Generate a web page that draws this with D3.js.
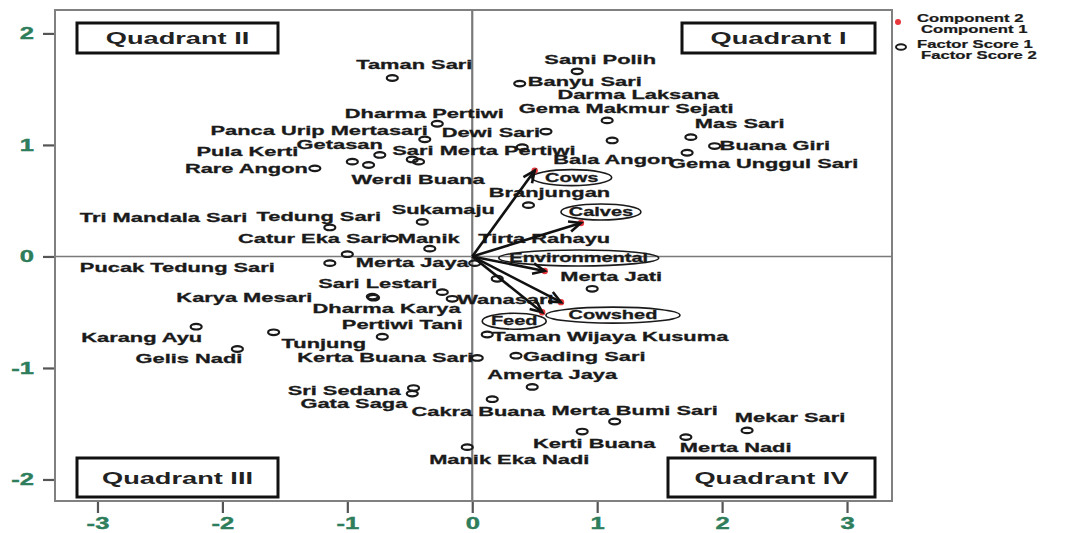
<!DOCTYPE html>
<html lang="en">
<head>
<meta charset="UTF-8">
<script src="https://d3js.org/d3.v7.min.js"></script>
<style>
  body { margin: 0; background: #fff; }
  text { font-family: "Liberation Sans", Arial, sans-serif; font-weight: bold; }
</style>
</head>
<body>
<script>

// factor scores of each village (component 1, component 2)
var villages = ["Taman Sari", "Sami Polih", "Banyu Sari", "Darma Laksana", "Gema Makmur Sejati", "Mas Sari",
    "Buana Giri", "Gema Unggul Sari", "Dewi Sari", "Bala Angon", "Dharma Pertiwi", "Panca Urip Mertasari",
    "Getasan", "Pula Kerti", "Werdi Buana", "Sari Merta Pertiwi", "", "Rare Angon", "Branjungan",
    "Tedung Sari", "Sukamaju", "Catur Eka Sari", "Manik", "Tri Mandala Sari", "Pucak Tedung Sari",
    "Merta Jaya", "Tirta Rahayu", "Sari Lestari", "Wanasari", "Karya Mesari", "Dharma Karya", "Merta Jati",
    "Pertiwi Tani", "Karang Ayu", "Tunjung", "Gelis Nadi", "Kerta Buana Sari", "Sri Sedana", "Gata Saga",
    "Manik Eka Nadi", "Taman Wijaya Kusuma", "Gading Sari", "Amerta Jaya", "Cakra Buana", "Merta Bumi Sari",
    "Kerti Buana", "Merta Nadi", "Mekar Sari"];
var score1 = [-0.64, 0.84, 0.38, 1.08, 1.12, 1.75, 1.94, 1.72, 0.59, 0.40, -0.28, -0.38, -0.74, -0.96, -0.83,
    -0.48, -0.43, -1.26, 0.45, -1.14, -0.40, -0.64, -0.34, -1.00, -1.14, 0.02, 0.20, -0.24, -0.16, -0.80, -0.79,
    0.96, -0.72, -2.21, -1.59, -1.88, 0.04, -0.47, -0.48, -0.04, 0.12, 0.35, 0.48, 0.16, 1.14, 0.88, 1.71, 2.20];
var score2 = [1.60, 1.66, 1.55, 1.22, 1.04, 1.07, 0.99, 0.93, 1.12, 0.98, 1.19, 1.05, 0.91, 0.85, 0.82,
    0.87, 0.85, 0.79, 0.46, 0.26, 0.31, 0.16, 0.07, 0.02, -0.06, -0.06, -0.20, -0.32, -0.38, -0.36, -0.37,
    -0.29, -0.72, -0.63, -0.68, -0.83, -0.91, -1.18, -1.23, -1.71, -0.70, -0.89, -1.17, -1.28, -1.48, -1.57,
    -1.62, -1.56];

// where each village label sits next to its point
var labelAnchor = ["middle", "middle", "start", "middle", "middle", "start", "start", "start", "end", "start",
    "middle", "end", "end", "end", "start", "start", "start", "end", "middle", "middle", "middle", "end", "start",
    "end", "end", "end", "middle", "end", "start", "end", "start", "middle", "middle", "end", "start", "end", "end",
    "end", "end", "middle", "start", "start", "middle", "middle", "middle", "middle", "start", "middle"];
var labelDx = [22, 23, 8, 31, 14, 4, 5, -18, -6, 31, -13, 3, 3, -54, -17, -20, 0, -7, 21, -11, 21, -5, -32,
    -100, -55, -6, 47, -5, 5, -60, -61, 19, 20, 6, 8, 5, -4, -13, -5, 42, 5, 7, 20, -14, 20, 12, -6, 43];
var labelDy = [-13, -12, -2, -26, -32, -13, 0, 11, 1, 12, -10, -9, -10, -10, 15, -9, 0, 0, -12, -11, -12, 0, -10,
    -37, 5, 0, -40, -8, 1, 1, 11, -12, -12, 11, 11, 10, 0, 3, 10, 13, 2, 1, -12, 12, -11, 12, 11, -13];

// component loadings of the variables
var variables = ["Cows", "Calves", "Environmental", "Cowshed", "Feed"];
var loading1 = [0.50, 0.87, 0.58, 0.71, 0.56];
var loading2 = [0.77, 0.30, -0.13, -0.41, -0.50];
var tagDx = [37, 20, 34, 52, -28];
var tagDy = [7, -11, -13, 13, 9];
var tagRx = [40, 40, 80, 67, 32];

var xTicks = [-3, -2, -1, 0, 1, 2, 3];
var yTicks = [-2, -1, 0, 1, 2];
var quadrants = ["Quadrant I", "Quadrant II", "Quadrant III", "Quadrant IV"];
var legendLabels = ["Component  2", "Component  1", "Factor Score  1", "Factor Score  2"];

var W = 1081, H = 533;
var plotL = 55, plotR = 892, plotT = 10, plotB = 501;
var SX = 1.68; // the picture is stretched sideways

var svg = d3.select("body").append("svg")
    .attr("width", W)
    .attr("height", H);

var x = d3.scaleLinear().domain([-3.34, 3.36]).range([plotL, plotR]);
var y = d3.scaleLinear().domain([-2.193, 2.21]).range([plotB, plotT]);

function stretch(sel, fx, fy, sx) {
    sel.attr("transform", function (d, i) {
        return "translate(" + fx(d, i) + "," + fy(d, i) + ") scale(" + (sx || SX) + ",1)";
    });
}

// axes
var yAxis = svg.append("g")
    .attr("transform", "translate(" + plotL + ",0)")
    .call(d3.axisLeft(y).tickValues(yTicks).tickSize(12).tickSizeOuter(0).tickFormat(d3.format("d")));
var xAxis = svg.append("g")
    .attr("transform", "translate(0," + plotB + ")")
    .call(d3.axisBottom(x).tickValues(xTicks).tickSize(12).tickSizeOuter(0).tickFormat(d3.format("d")));

[yAxis, xAxis].forEach(function (g) {
    g.select(".domain").remove();
    g.selectAll(".tick line").attr("stroke", "#555").attr("stroke-width", 2.2);
    g.selectAll(".tick text")
        .attr("x", null).attr("y", null).attr("dy", null)
        .attr("fill", "#2e7d5b")
        .attr("stroke", "#2e7d5b").attr("stroke-width", 0.4)
        .attr("font-size", 16.5)
        .attr("font-family", null)
        .attr("dominant-baseline", "central")
        .text(function (d) { return d < 0 ? "-" + Math.abs(d) : d; });
});
yAxis.selectAll(".tick text").attr("text-anchor", "end");
stretch(yAxis.selectAll(".tick text"), function () { return -21; }, function () { return 0; }, 1.55);
stretch(xAxis.selectAll(".tick text"), function () { return 0; }, function () { return 23; }, 1.55);

// frame and zero lines
svg.append("rect")
    .attr("x", plotL).attr("y", plotT)
    .attr("width", plotR - plotL).attr("height", plotB - plotT)
    .attr("fill", "none").attr("stroke", "#808080").attr("stroke-width", 2);
svg.append("line")
    .attr("x1", x(0)).attr("x2", x(0)).attr("y1", plotT).attr("y2", plotB)
    .attr("stroke", "#7a7a7a").attr("stroke-width", 2.2);
svg.append("line")
    .attr("x1", plotL).attr("x2", plotR).attr("y1", y(0)).attr("y2", y(0))
    .attr("stroke", "#7a7a7a").attr("stroke-width", 1.6);

// quadrant boxes
var qBox = quadrants.map(function (q, i) {
    var isRight = (i === 0 || i === 3), isTop = (i < 2);
    var w = i === 0 ? 193 : (i === 3 ? 207 : 201);
    var h = isTop ? 30 : 39;
    return {
        name: q,
        x: isRight ? plotR - 17 - w : plotL + 22,
        y: isTop ? plotT + 13 : plotB - 43,
        w: w, h: h
    };
});
svg.selectAll("rect.q")
    .data(qBox)
    .join("rect")
    .attr("class", "q")
    .attr("x", function (d) { return d.x; })
    .attr("y", function (d) { return d.y; })
    .attr("width", function (d) { return d.w; })
    .attr("height", function (d) { return d.h; })
    .attr("fill", "#fff").attr("stroke", "#111").attr("stroke-width", 3);
var qText = svg.selectAll("text.q")
    .data(qBox)
    .join("text")
    .attr("class", "q")
    .attr("text-anchor", "middle")
    .attr("dominant-baseline", "central")
    .attr("font-size", 16)
    .attr("fill", "#222")
    .text(function (d) { return d.name; });
stretch(qText, function (d) { return d.x + d.w / 2; }, function (d) { return d.y + d.h / 2 + 1; }, 1.7);

// village points
var pts = villages.map(function (v, i) {
    return { name: v, px: x(score1[i]), py: y(score2[i]), anchor: labelAnchor[i], dx: labelDx[i], dy: labelDy[i] };
});
svg.selectAll("ellipse.pt")
    .data(pts)
    .join("ellipse")
    .attr("class", "pt")
    .attr("cx", function (d) { return d.px; })
    .attr("cy", function (d) { return d.py; })
    .attr("rx", 5.5).attr("ry", 2.8)
    .attr("fill", "none").attr("stroke", "#1a1a1a").attr("stroke-width", 2.2);

var lab = svg.selectAll("text.lab")
    .data(pts.filter(function (d) { return d.name !== ""; }))
    .join("text")
    .attr("class", "lab")
    .attr("font-size", 13)
    .attr("fill", "#1a1a1a")
    .attr("stroke", "#1a1a1a").attr("stroke-width", 0.3)
    .attr("dominant-baseline", "central")
    .attr("text-anchor", function (d) { return d.anchor; })
    .text(function (d) { return d.name; });
stretch(lab, function (d) { return d.px + d.dx; }, function (d) { return d.py + d.dy; });

// variable tags (ellipses)
var vecs = variables.map(function (v, i) {
    return { name: v, ex: x(loading1[i]), ey: y(loading2[i]), tx: tagDx[i], ty: tagDy[i], rx: tagRx[i] };
});
svg.selectAll("ellipse.tag")
    .data(vecs)
    .join("ellipse")
    .attr("class", "tag")
    .attr("cx", function (d) { return d.ex + d.tx; })
    .attr("cy", function (d) { return d.ey + d.ty; })
    .attr("rx", function (d) { return d.rx; })
    .attr("ry", 8)
    .attr("fill", "none").attr("stroke", "#1a1a1a").attr("stroke-width", 1.6);
var tagText = svg.selectAll("text.tag")
    .data(vecs)
    .join("text")
    .attr("class", "tag")
    .attr("font-size", 12.5)
    .attr("fill", "#1a1a1a")
    .attr("stroke", "#1a1a1a").attr("stroke-width", 0.3)
    .attr("text-anchor", "middle")
    .attr("dominant-baseline", "central")
    .text(function (d) { return d.name; });
stretch(tagText, function (d) { return d.ex + d.tx; }, function (d) { return d.ey + d.ty; }, 1.6);

// red end points
svg.selectAll("circle.end")
    .data(vecs)
    .join("circle")
    .attr("class", "end")
    .attr("cx", function (d) { return d.ex; })
    .attr("cy", function (d) { return d.ey; })
    .attr("r", 3.2)
    .attr("fill", "#e8383d");

// arrows
var ox = x(0), oy = y(0);
svg.selectAll("line.vec")
    .data(vecs)
    .join("line")
    .attr("class", "vec")
    .attr("x1", ox).attr("y1", oy)
    .attr("x2", function (d) { return d.ex; })
    .attr("y2", function (d) { return d.ey; })
    .attr("stroke", "#111").attr("stroke-width", 2.6);
svg.selectAll("path.head")
    .data(vecs)
    .join("path")
    .attr("class", "head")
    .attr("d", function (d) {
        var a = Math.atan2(d.ey - oy, d.ex - ox), L = 13, w = 0.42;
        return "M" + (d.ex - L * Math.cos(a - w)) + "," + (d.ey - L * Math.sin(a - w)) +
            "L" + d.ex + "," + d.ey +
            "L" + (d.ex - L * Math.cos(a + w)) + "," + (d.ey - L * Math.sin(a + w));
    })
    .attr("fill", "none").attr("stroke", "#111").attr("stroke-width", 2.6);

// legend
svg.append("circle").attr("cx", plotR + 6).attr("cy", 22).attr("r", 3).attr("fill", "#e8383d");
svg.append("ellipse").attr("cx", plotR + 9).attr("cy", 47).attr("rx", 5).attr("ry", 2.8)
    .attr("fill", "none").attr("stroke", "#1a1a1a").attr("stroke-width", 2);
var legY = [18, 29, 44, 55];
var legX = [917, 921, 917, 921];
var leg = svg.selectAll("text.leg")
    .data(legendLabels)
    .join("text")
    .attr("class", "leg")
    .attr("font-size", 11.5)
    .attr("fill", "#1a1a1a")
    .attr("stroke", "#1a1a1a").attr("stroke-width", 0.25)
    .attr("dominant-baseline", "central")
    .text(function (d) { return d; });
stretch(leg, function (d, i) { return legX[i]; }, function (d, i) { return legY[i]; }, 1.45);

</script>
</body>
</html>
